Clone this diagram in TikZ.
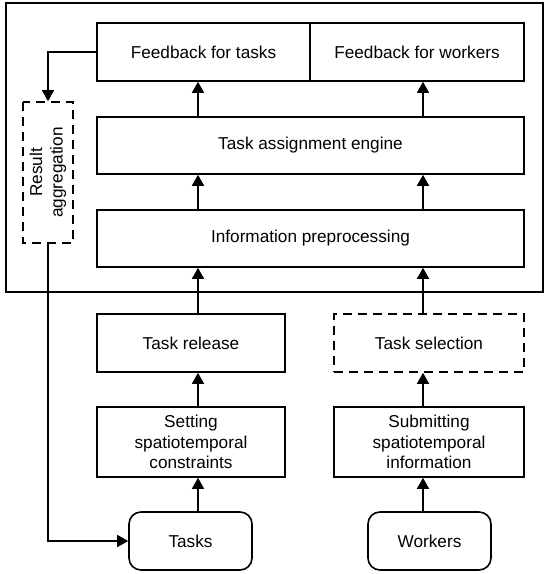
\documentclass[tikz,border=0pt]{standalone}
\usepackage{fontspec}
\setmainfont{Liberation Sans}
\usetikzlibrary{arrows.meta}
\begin{document}
\begin{tikzpicture}[x=1pt, y=-1pt, line width=1.6pt,
    >={Triangle[length=11pt,width=12pt]},
    stage/.style={draw, align=center, inner sep=0pt,
                  font=\fontsize{17.2}{20.5}\selectfont},
    optstage/.style={stage, dash pattern=on 9pt off 6pt},
    source/.style={stage, rounded corners=12pt}]
\useasboundingbox (0, 0) rectangle (544, 574);
\draw (6, 3) rectangle (543, 292);

\node[stage, minimum width=213, minimum height=58] (fbt) at (203.5, 52) {Feedback for tasks};
\node[stage, minimum width=214, minimum height=58] (fbw) at (417, 52) {Feedback for workers};
\node[stage, minimum width=427, minimum height=57] (tae) at (310.5, 145.5) {Task assignment engine};
\node[stage, minimum width=427, minimum height=57] (ipp) at (310.5, 238.5) {Information preprocessing};
\node[optstage, minimum width=141, minimum height=50, rotate=90] (agg) at (48, 172.5) {Result\\aggregation};

\node[stage, minimum width=188, minimum height=58] (rel) at (191, 343) {Task release};
\node[optstage, minimum width=190, minimum height=58] (sel) at (429, 343) {Task selection};
\node[stage, minimum width=188, minimum height=70] (set) at (191, 442) {Setting\\spatiotemporal\\constraints};
\node[stage, minimum width=190, minimum height=70] (sub) at (429, 442) {Submitting\\spatiotemporal\\information};
\node[source, minimum width=123, minimum height=58] (tasks) at (190.5, 541) {Tasks};
\node[source, minimum width=123, minimum height=58] (workers) at (429.5, 541) {Workers};

\coordinate (xl) at (198, 0);
\coordinate (xr) at (423, 0);

\draw[->] (tasks.north -| xl) -- (set.south -| xl);
\draw[->] (set.north -| xl) -- (rel.south -| xl);
\draw[->] (rel.north -| xl) -- (ipp.south -| xl);
\draw[->] (ipp.north -| xl) -- (tae.south -| xl);
\draw[->] (tae.north -| xl) -- (fbt.south -| xl);

\draw[->] (workers.north -| xr) -- (sub.south -| xr);
\draw[->] (sub.north -| xr) -- (sel.south -| xr);
\draw[->] (sel.north -| xr) -- (ipp.south -| xr);
\draw[->] (ipp.north -| xr) -- (tae.south -| xr);
\draw[->] (tae.north -| xr) -- (fbw.south -| xr);

\draw[->] (fbt.west) -| (agg.east);
\draw[->] (agg.west) |- (tasks.west);
\end{tikzpicture}
\end{document}
